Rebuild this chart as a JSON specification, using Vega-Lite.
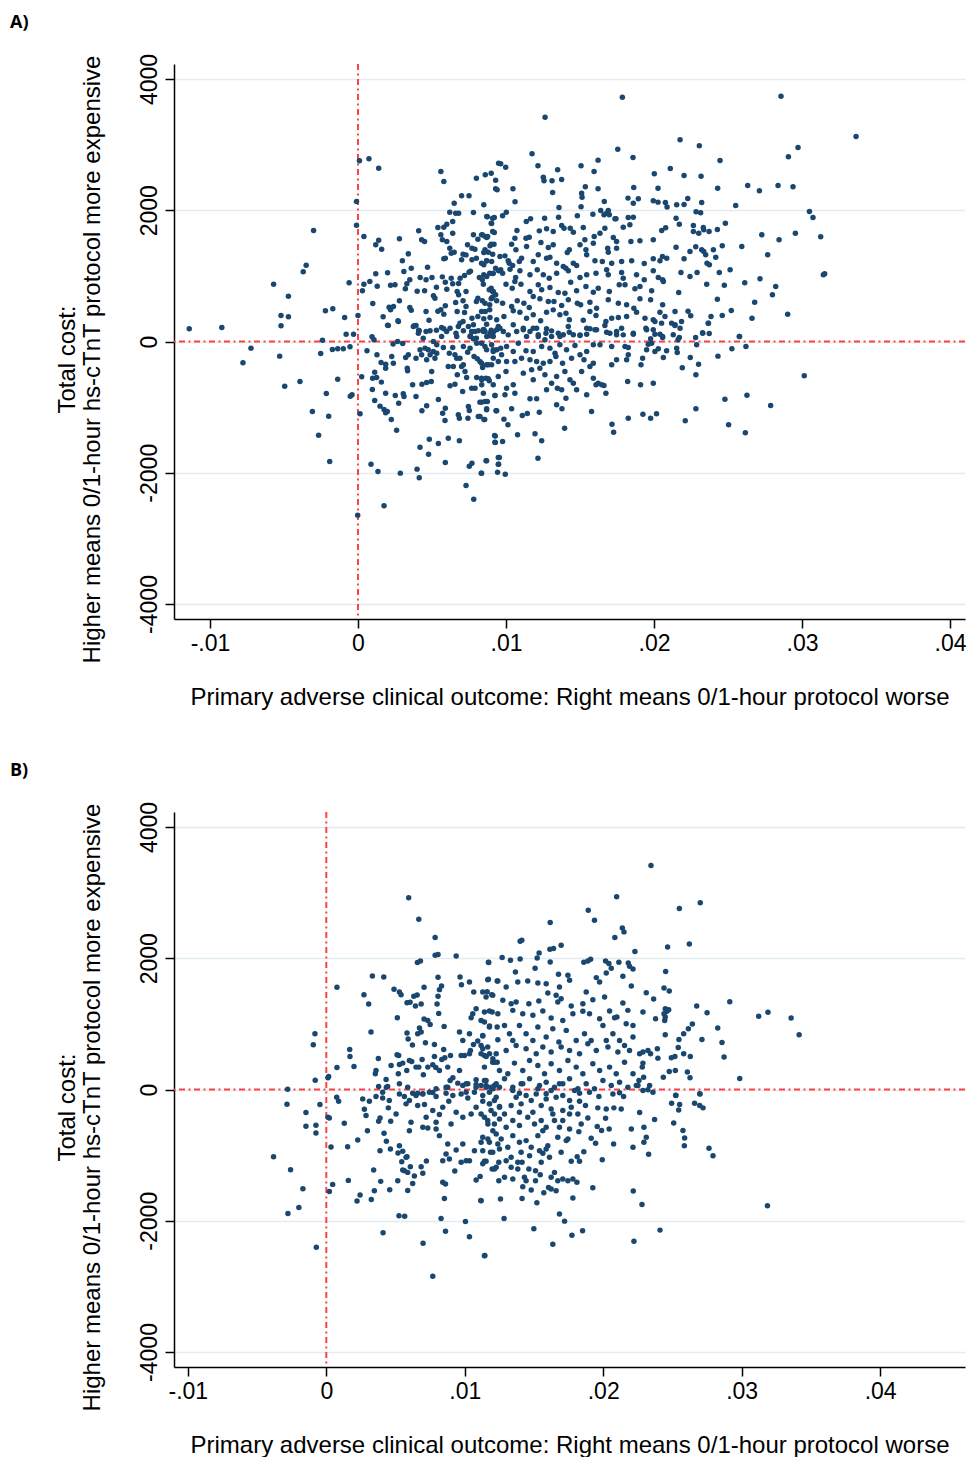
{
"$schema":"https://vega.github.io/schema/vega-lite/v6.json",
"padding":{"left":10,"top":14,"right":0,"bottom":0},
"background":"white",
"spacing":53,
"config":{"font":"Liberation Sans","view":{"stroke":null},
"axis":{"domainColor":"black","domainWidth":1.5,"tickColor":"black","tickWidth":1.5,"tickSize":9,"labelColor":"black","titleColor":"black","labelFontSize":23,"titleFontSize":24,"titleFontWeight":"normal","gridColor":"#e3edf1","gridWidth":1.5}},
"datasets":{
"a":[
{"x":0.0001,"y":2754},{"x":0.00074,"y":2784},{"x":0.0014,"y":2641},{"x":-0.0001,"y":2134},{"x":-0.0001,"y":1773},{"x":0.0004,"y":1600},{"x":-0.003,"y":1692},{"x":0.0012,"y":1474},{"x":0.0014,"y":1544},{"x":0.0016,"y":1407},{"x":0.0028,"y":1565},{"x":0.0041,"y":1687},{"x":0.0043,"y":1550},{"x":0.0045,"y":1524},{"x":0.0034,"y":1336},{"x":0.003,"y":1230},{"x":-0.0035,"y":1163},{"x":-0.0037,"y":1062},{"x":-0.0057,"y":873},{"x":-0.0047,"y":690},{"x":-0.0052,"y":396},{"x":-0.0047,"y":376},{"x":-0.0052,"y":239},{"x":-0.0114,"y":193},{"x":-0.0092,"y":213},{"x":-0.0022,"y":467},{"x":-0.0017,"y":498},{"x":-0.0009,"y":366},{"x":-0.0006,"y":894},{"x":0,"y":396},{"x":-0.0008,"y":112},{"x":-0.0003,"y":112},{"x":-0.0024,"y":20},{"x":0.0003,"y":772},{"x":0.0004,"y":873},{"x":0.0008,"y":914},{"x":0.0013,"y":843},{"x":0.001,"y":579},{"x":0.0012,"y":1032},{"x":0.002,"y":1047},{"x":0.0017,"y":376},{"x":0.002,"y":248},{"x":0.0027,"y":315},{"x":0.0021,"y":523},{"x":0.0022,"y":483},{"x":0.0024,"y":533},{"x":0.0028,"y":620},{"x":0.0022,"y":858},{"x":0.0025,"y":864},{"x":0.0031,"y":1067},{"x":0.0036,"y":1117},{"x":0.0035,"y":518},{"x":0.0036,"y":477},{"x":0.0032,"y":803},{"x":0.0033,"y":879},{"x":0.0035,"y":940},{"x":0.0038,"y":239},{"x":0.0041,"y":172},{"x":0.004,"y":767},{"x":0.0042,"y":975},{"x":0.0045,"y":772},{"x":0.0046,"y":940},{"x":0.0047,"y":1132},{"x":0.0046,"y":457},{"x":0.0048,"y":325},{"x":0.0053,"y":172},{"x":0.0054,"y":462},{"x":0.0051,"y":696},{"x":0.0052,"y":660},{"x":0.005,"y":975},{"x":0.0053,"y":828},{"x":0.0057,"y":985},{"x":0.0059,"y":904},{"x":0.006,"y":797},{"x":0.0056,"y":483},{"x":0.0059,"y":544},{"x":0.0058,"y":416},{"x":0.0058,"y":193},{"x":0.0063,"y":965},{"x":0.0064,"y":879},{"x":0.0068,"y":884},{"x":0.0069,"y":965},{"x":0.0072,"y":1006},{"x":0.0075,"y":1057},{"x":0.0076,"y":1072},{"x":0.0067,"y":762},{"x":0.0068,"y":711},{"x":0.0073,"y":762},{"x":0.0066,"y":594},{"x":0.0067,"y":457},{"x":0.0071,"y":620},{"x":0.0073,"y":533},{"x":0.0072,"y":442},{"x":0.0071,"y":305},{"x":0.0077,"y":355},{"x":0.0078,"y":254},{"x":0.0076,"y":86},{"x":0.0079,"y":152},{"x":0.008,"y":50},{"x":0.0085,"y":183},{"x":0.009,"y":172},{"x":0.0089,"y":86},{"x":0.0087,"y":76},{"x":0.008,"y":610},{"x":0.0081,"y":660},{"x":0.0084,"y":620},{"x":0.0081,"y":381},{"x":0.0085,"y":345},{"x":0.0089,"y":483},{"x":0.0086,"y":457},{"x":0.0089,"y":559},{"x":0.009,"y":650},{"x":0.0091,"y":680},{"x":0.0082,"y":975},{"x":0.0084,"y":940},{"x":0.0085,"y":1016},{"x":0.0087,"y":991},{"x":0.0089,"y":1041},{"x":0.0091,"y":1036},{"x":0.009,"y":813},{"x":0.0091,"y":762},{"x":0.0093,"y":711},{"x":0.0078,"y":1626},{"x":0.0081,"y":1559},{"x":0.0084,"y":1626},{"x":0.0086,"y":1600},{"x":0.0087,"y":1585},{"x":0.0091,"y":1676},{"x":0.009,"y":1483},{"x":0.0088,"y":1361},{"x":0.0085,"y":1356},{"x":0.0091,"y":1330},{"x":0.0087,"y":1229},{"x":0.0085,"y":1168},{"x":0.0093,"y":1117},{"x":0.0095,"y":1077},{"x":0.0074,"y":1474},{"x":0.0071,"y":1330},{"x":0.0077,"y":1422},{"x":0.0079,"y":1407},{"x":0.007,"y":1245},{"x":0.0073,"y":1320},{"x":0.0077,"y":1245},{"x":0.008,"y":1270},{"x":0.0062,"y":1422},{"x":0.0063,"y":1346},{"x":0.0065,"y":1361},{"x":0.0059,"y":1270},{"x":0.0058,"y":1260},{"x":0.0064,"y":1829},{"x":0.0066,"y":1955},{"x":0.0062,"y":1971},{"x":0.0068,"y":1955},{"x":0.0058,"y":1742},{"x":0.006,"y":1788},{"x":0.0054,"y":1737},{"x":0.0056,"y":1626},{"x":0.0057,"y":1550},{"x":0.0064,"y":1651},{"x":0.006,"y":1524},{"x":0.0065,"y":2108},{"x":0.007,"y":2220},{"x":0.0075,"y":2220},{"x":0.0078,"y":1966},{"x":0.0085,"y":2083},{"x":0.0056,"y":2591},{"x":0.0058,"y":2438},{"x":0.008,"y":2489},{"x":0.0086,"y":2540},{"x":0.009,"y":2565},{"x":0.0093,"y":2458},{"x":0.0093,"y":2327},{"x":0.0094,"y":2312},{"x":0.0095,"y":2717},{"x":0.0087,"y":1905},{"x":0.009,"y":1803},{"x":0.0091,"y":1879},
{"x":0.01786,"y":3723},{"x":0.02858,"y":3739},{"x":0.01264,"y":3419},{"x":0.02176,"y":3073},{"x":0.02306,"y":2982},{"x":0.02973,"y":2957},{"x":0.02908,"y":2814},{"x":0.01176,"y":2860},{"x":0.01755,"y":2931},{"x":0.01858,"y":2804},{"x":0.02446,"y":2758},{"x":0.0211,"y":2637},{"x":0.02203,"y":2530},{"x":0.02318,"y":2520},{"x":0.02002,"y":2555},{"x":0.00964,"y":2708},{"x":0.00998,"y":2657},{"x":0.01047,"y":2327},{"x":0.01061,"y":2129},{"x":0.01216,"y":2677},{"x":0.01252,"y":2504},{"x":0.01257,"y":2449},{"x":0.01311,"y":2449},{"x":0.01315,"y":2271},{"x":0.01349,"y":2616},{"x":0.01376,"y":2469},{"x":0.01358,"y":2042},{"x":0.01507,"y":2677},{"x":0.01536,"y":2357},{"x":0.01511,"y":2261},{"x":0.01514,"y":2200},{"x":0.01507,"y":2052},{"x":0.01595,"y":2591},{"x":0.01622,"y":2764},{"x":0.01622,"y":2327},{"x":0.01664,"y":2134},{"x":0.0164,"y":1996},{"x":0.01662,"y":1930},{"x":0.01691,"y":1996},{"x":0.01698,"y":1930},{"x":0.01743,"y":1869},{"x":0.01824,"y":2185},{"x":0.0186,"y":2108},{"x":0.01863,"y":2347},{"x":0.01894,"y":2174},{"x":0.01995,"y":2144},{"x":0.02027,"y":2124},{"x":0.02077,"y":2119},{"x":0.02088,"y":2048},{"x":0.02153,"y":2083},{"x":0.02203,"y":2088},{"x":0.02228,"y":2179},{"x":0.02027,"y":2337},{"x":0.02284,"y":1976},{"x":0.02322,"y":2119},{"x":0.02315,"y":1961},{"x":0.02149,"y":1880},{"x":0.02171,"y":1788},{"x":0.02266,"y":1768},{"x":0.02333,"y":1737},{"x":0.02372,"y":1676},{"x":0.02428,"y":1707},{"x":0.02482,"y":1803},{"x":0.0243,"y":2337},{"x":0.02552,"y":2073},{"x":0.02633,"y":2377},{"x":0.02712,"y":2296},{"x":0.02838,"y":2377},{"x":0.02939,"y":2357},{"x":0.0305,"y":1981},{"x":0.02728,"y":1626},{"x":0.02845,"y":1549},{"x":0.02955,"y":1651},{"x":0.02593,"y":1448},{"x":0.02768,"y":1321},{"x":0.02716,"y":955},{"x":0.02613,"y":894},{"x":0.02822,"y":838},{"x":0.028,"y":711},{"x":0.0268,"y":599},{"x":0.02662,"y":355},{"x":0.02903,"y":416},{"x":0.02522,"y":472},{"x":0.02576,"y":76},{"x":0.02428,"y":645},{"x":0.02461,"y":396},{"x":0.02475,"y":858},{"x":0.02514,"y":1092},{"x":0.02441,"y":1051},{"x":0.02461,"y":1458},{"x":0.02417,"y":1285},{"x":0.02401,"y":1397},{"x":0.02266,"y":1676},{"x":0.02302,"y":1651},{"x":0.02336,"y":1702},{"x":0.02322,"y":1397},{"x":0.02336,"y":1372},{"x":0.02349,"y":1321},{"x":0.02358,"y":1194},{"x":0.02374,"y":1168},{"x":0.02356,"y":874},{"x":0.02385,"y":381},{"x":0.02367,"y":279},{"x":0.02329,"y":127},{"x":0.02282,"y":1443},{"x":0.02243,"y":1372},{"x":0.02203,"y":1260},{"x":0.02182,"y":1051},{"x":0.02243,"y":991},{"x":0.02291,"y":1051},{"x":0.02149,"y":1438},{"x":0.02086,"y":1270},{"x":0.02052,"y":1692},{"x":0.02079,"y":1732},{"x":0.02057,"y":1295},{"x":0.02167,"y":747},{"x":0.02142,"y":457},{"x":0.0223,"y":462},{"x":0.02248,"y":391},{"x":0.02142,"y":254},{"x":0.02176,"y":203},
{"x":0.00874,"y":1900},{"x":0.00921,"y":1890},{"x":0.00977,"y":1915},{"x":0.01002,"y":1971},{"x":0.01137,"y":1829},{"x":0.01166,"y":1869},{"x":0.01261,"y":1879},{"x":0.01355,"y":1895},{"x":0.01482,"y":1915},{"x":0.01587,"y":1940},{"x":0.0168,"y":1956},{"x":0.01736,"y":1869},{"x":0.01826,"y":1890},{"x":0.0186,"y":1895},
{"x":0.00835,"y":1625},{"x":0.00903,"y":1798},{"x":0.00921,"y":1661},{"x":0.00876,"y":1600},{"x":0.01074,"y":1691},{"x":0.0106,"y":1575},{"x":0.01157,"y":1590},{"x":0.01225,"y":1686},{"x":0.01274,"y":1717},{"x":0.01319,"y":1676},{"x":0.01376,"y":1768},{"x":0.01392,"y":1727},{"x":0.01434,"y":1727},{"x":0.01455,"y":1666},{"x":0.01522,"y":1737},{"x":0.01533,"y":1549},{"x":0.01596,"y":1600},{"x":0.01635,"y":1651},{"x":0.01668,"y":1727},{"x":0.01725,"y":1585},{"x":0.01747,"y":1524},{"x":0.01792,"y":1742},{"x":0.01837,"y":1778},{"x":0.01905,"y":1534},
{"x":0.00858,"y":1397},{"x":0.00892,"y":1458},{"x":0.00919,"y":1483},{"x":0.00993,"y":1305},{"x":0.01038,"y":1483},{"x":0.01067,"y":1397},{"x":0.01135,"y":1575},{"x":0.01139,"y":1448},{"x":0.01236,"y":1509},{"x":0.01286,"y":1432},{"x":0.01319,"y":1473},{"x":0.01428,"y":1397},{"x":0.01414,"y":1356},{"x":0.015,"y":1473},{"x":0.0154,"y":1397},{"x":0.0159,"y":1498},{"x":0.01687,"y":1422},{"x":0.01691,"y":1361},{"x":0.01747,"y":1422},{"x":0.01844,"y":1524},{"x":0.01995,"y":1549},
{"x":0.00835,"y":1194},{"x":0.00869,"y":1229},{"x":0.00903,"y":1219},{"x":0.00959,"y":1295},{"x":0.01015,"y":1229},{"x":0.01022,"y":1194},{"x":0.01045,"y":1158},{"x":0.0109,"y":1219},{"x":0.01105,"y":1270},{"x":0.01184,"y":1219},{"x":0.01218,"y":1321},{"x":0.01274,"y":1270},{"x":0.01297,"y":1285},{"x":0.01342,"y":1194},{"x":0.01387,"y":1143},{"x":0.01455,"y":1194},{"x":0.01477,"y":1158},{"x":0.01545,"y":1321},{"x":0.01601,"y":1229},{"x":0.01651,"y":1219},{"x":0.01714,"y":1194},{"x":0.01781,"y":1219},{"x":0.01849,"y":1229},{"x":0.01934,"y":1189},{"x":0.01995,"y":1260},{"x":0.0204,"y":1229},
{"x":0.00914,"y":1041},{"x":0.00964,"y":1092},{"x":0.00977,"y":1041},{"x":0.01027,"y":1102},{"x":0.01065,"y":975},{"x":0.01094,"y":1077},{"x":0.01162,"y":1016},{"x":0.01211,"y":1092},{"x":0.01252,"y":1016},{"x":0.01292,"y":965},{"x":0.01342,"y":1041},{"x":0.01405,"y":1117},{"x":0.01421,"y":1077},{"x":0.015,"y":975},{"x":0.01545,"y":1016},{"x":0.01608,"y":1041},{"x":0.0168,"y":1092},{"x":0.01691,"y":1016},{"x":0.01781,"y":1051},{"x":0.01792,"y":965},{"x":0.01882,"y":1016},{"x":0.01934,"y":940},{"x":0.01995,"y":1077},{"x":0.02029,"y":975},{"x":0.02058,"y":940},
{"x":0.00847,"y":874},{"x":0.00887,"y":787},{"x":0.00914,"y":762},{"x":0.01,"y":874},{"x":0.01042,"y":813},{"x":0.0106,"y":914},{"x":0.01101,"y":874},{"x":0.01162,"y":762},{"x":0.01218,"y":864},{"x":0.01241,"y":787},{"x":0.01297,"y":823},{"x":0.01353,"y":747},{"x":0.01398,"y":736},{"x":0.01437,"y":904},{"x":0.01477,"y":772},{"x":0.0154,"y":838},{"x":0.0159,"y":752},{"x":0.01623,"y":813},{"x":0.01698,"y":762},{"x":0.01765,"y":864},{"x":0.01804,"y":864},{"x":0.01871,"y":803},{"x":0.01905,"y":838},{"x":0.01984,"y":772},{"x":0.02063,"y":914},
{"x":0.00858,"y":584},{"x":0.00903,"y":660},{"x":0.00937,"y":620},{"x":0.00977,"y":584},{"x":0.01038,"y":533},{"x":0.01076,"y":620},{"x":0.01121,"y":584},{"x":0.01157,"y":518},{"x":0.01184,"y":686},{"x":0.01229,"y":650},{"x":0.01286,"y":610},{"x":0.01324,"y":610},{"x":0.01376,"y":549},{"x":0.01421,"y":635},{"x":0.01482,"y":584},{"x":0.01504,"y":559},{"x":0.01567,"y":599},{"x":0.01612,"y":508},{"x":0.01691,"y":635},{"x":0.01759,"y":584},{"x":0.01815,"y":559},{"x":0.01864,"y":508},{"x":0.01905,"y":650},{"x":0.01977,"y":635},{"x":0.02058,"y":559},
{"x":0.00835,"y":457},{"x":0.00892,"y":366},{"x":0.00937,"y":330},{"x":0.00986,"y":381},{"x":0.01049,"y":467},{"x":0.01094,"y":447},{"x":0.01139,"y":355},{"x":0.01184,"y":406},{"x":0.01234,"y":315},{"x":0.01274,"y":447},{"x":0.01319,"y":482},{"x":0.01364,"y":406},{"x":0.01405,"y":432},{"x":0.01428,"y":330},{"x":0.01522,"y":325},{"x":0.01567,"y":457},{"x":0.01608,"y":396},{"x":0.01675,"y":305},{"x":0.01714,"y":355},{"x":0.01759,"y":366},{"x":0.01815,"y":381},{"x":0.01882,"y":447},{"x":0.01939,"y":355},{"x":0.01995,"y":330},{"x":0.0204,"y":447},{"x":0.02074,"y":381},
{"x":0.00847,"y":178},{"x":0.00914,"y":142},{"x":0.00959,"y":203},{"x":0.01015,"y":101},{"x":0.01072,"y":152},{"x":0.01117,"y":203},{"x":0.01162,"y":152},{"x":0.01207,"y":203},{"x":0.01218,"y":76},{"x":0.0127,"y":127},{"x":0.01308,"y":162},{"x":0.01364,"y":76},{"x":0.01428,"y":142},{"x":0.015,"y":101},{"x":0.01545,"y":203},{"x":0.01612,"y":178},{"x":0.0168,"y":142},{"x":0.01747,"y":152},{"x":0.01792,"y":101},{"x":0.0186,"y":112},{"x":0.0195,"y":178},{"x":0.02006,"y":112},{"x":0.02058,"y":61},
{"x":0.03365,"y":3124},{"x":0.03074,"y":1889},{"x":0.03126,"y":1595},{"x":0.03144,"y":1016},{"x":0.03153,"y":1031},
{"x":-0.00723,"y":-101},{"x":-0.00777,"y":-325},{"x":-0.00529,"y":-223},{"x":-0.00495,"y":-681},{"x":-0.00392,"y":-609},{"x":-0.00252,"y":-183},{"x":-0.00173,"y":-122},{"x":-0.00137,"y":-112},{"x":-0.00099,"y":-112},{"x":-0.00054,"y":-81},{"x":-0.00137,"y":-574},{"x":-0.00214,"y":-792},{"x":-0.00308,"y":-1067},{"x":-0.00198,"y":-1138},{"x":-0.00266,"y":-1427},{"x":-0.00191,"y":-1829},{"x":-0.00052,"y":-833},{"x":-0.0004,"y":-813},{"x":0.00014,"y":-1102},{"x":0.00025,"y":-538},{"x":-0.00002,"y":-2646},{"x":0.00061,"y":-142},{"x":0.00095,"y":71},{"x":0.00108,"y":25},{"x":0.00128,"y":-203},{"x":0.00156,"y":-320},{"x":0.00187,"y":-345},{"x":0.00187,"y":-406},{"x":0.00228,"y":-228},{"x":0.00239,"y":-330},{"x":0.00237,"y":-40},{"x":0.00268,"y":0},{"x":0.00302,"y":-30},{"x":0.00099,"y":-559},{"x":0.00126,"y":-549},{"x":0.00158,"y":-619},{"x":0.00113,"y":-467},{"x":0.00097,"y":-731},{"x":0.00113,"y":-899},{"x":0.00149,"y":-985},{"x":0.00176,"y":-1036},{"x":0.00187,"y":-1087},{"x":0.00198,"y":-1067},{"x":0.00225,"y":-1189},{"x":0.00261,"y":-1351},{"x":0.00187,"y":-787},{"x":0.00252,"y":-823},{"x":0.00306,"y":-797},{"x":0.00311,"y":-838},{"x":0.00275,"y":-940},{"x":0.00369,"y":-660},{"x":0.00392,"y":-838},{"x":0.00432,"y":-1056},{"x":0.00464,"y":-980},{"x":0.00498,"y":-457},{"x":0.00495,"y":-609},{"x":0.00464,"y":-625},{"x":0.00432,"y":-650},{"x":0.00543,"y":-884},{"x":0.0059,"y":-1016},{"x":0.00572,"y":-1092},{"x":0.00588,"y":-1204},{"x":0.00622,"y":-675},{"x":0.00655,"y":-650},{"x":0.00678,"y":-1117},{"x":0.00685,"y":-1168},{"x":0.00707,"y":-762},{"x":0.00746,"y":-991},{"x":0.00752,"y":-1051},{"x":0.00743,"y":-1168},{"x":0.00813,"y":-1143},{"x":0.00851,"y":-1189},{"x":0.00768,"y":-711},{"x":0.00791,"y":-711},{"x":0.00836,"y":-660},{"x":0.00865,"y":-559},{"x":0.00858,"y":-914},{"x":0.00824,"y":-924},{"x":0.00869,"y":-1041},{"x":0.00926,"y":-823},{"x":0.00937,"y":-1056},{"x":0.00928,"y":-1442},{"x":0.00928,"y":-1539},
{"x":0.00482,"y":-1488},{"x":0.00419,"y":-1610},{"x":0.00477,"y":-1717},{"x":0.00543,"y":-1554},{"x":0.0061,"y":-1473},{"x":0.00685,"y":-1514},{"x":0.0059,"y":-1844},{"x":0.00399,"y":-1945},{"x":0.00414,"y":-2078},{"x":0.00286,"y":-2006},{"x":0.00135,"y":-1981},{"x":0.00088,"y":-1869},{"x":0.00176,"y":-2504},{"x":0.0073,"y":-2194},{"x":0.00782,"y":-2403},{"x":0.00752,"y":-1900},{"x":0.0077,"y":-1854},{"x":0.00833,"y":-2006},{"x":0.00869,"y":-1818},{"x":0.00948,"y":-1768},{"x":0.00948,"y":-1869},
{"x":0.00205,"y":244},{"x":0.00273,"y":305},{"x":0.00374,"y":229},{"x":0.00392,"y":244},{"x":0.00408,"y":127},{"x":0.00414,"y":163},{"x":0.0046,"y":152},{"x":0.00487,"y":163},{"x":0.00441,"y":51},{"x":0.00509,"y":0},{"x":0.00532,"y":-51},{"x":0.00565,"y":76},{"x":0.00599,"y":152},{"x":0.00565,"y":214},{"x":0.00622,"y":203},{"x":0.00662,"y":127},{"x":0.00667,"y":76},{"x":0.00678,"y":229},{"x":0.00712,"y":163},{"x":0.00746,"y":229},{"x":0.00768,"y":152},{"x":0.00757,"y":76},{"x":0.00779,"y":41},{"x":0.00813,"y":163},{"x":0.00847,"y":152},{"x":0.00892,"y":127},{"x":0.00914,"y":76},{"x":0.00948,"y":229},{"x":0.00869,"y":264},{"x":0.00689,"y":280},
{"x":0.00419,"y":-127},{"x":0.00453,"y":-101},{"x":0.00475,"y":-127},{"x":0.00509,"y":-152},{"x":0.00532,"y":-178},{"x":0.0052,"y":-254},{"x":0.00487,"y":-203},{"x":0.00464,"y":-279},{"x":0.0043,"y":-203},{"x":0.0034,"y":-203},{"x":0.00322,"y":-244},{"x":0.00333,"y":-406},{"x":0.00335,"y":-447},{"x":0.00392,"y":-254},{"x":0.00577,"y":-91},{"x":0.00617,"y":-178},{"x":0.0064,"y":-91},{"x":0.00655,"y":-203},{"x":0.00667,"y":-254},{"x":0.00689,"y":-254},{"x":0.007,"y":-381},{"x":0.00712,"y":-355},{"x":0.00723,"y":-457},{"x":0.00741,"y":-163},{"x":0.00784,"y":-228},{"x":0.00806,"y":-264},{"x":0.00824,"y":-305},{"x":0.00842,"y":-396},{"x":0.00881,"y":-355},{"x":0.00903,"y":-355},{"x":0.00914,"y":-152},{"x":0.00937,"y":-127},{"x":0.00948,"y":-305},{"x":0.00903,"y":-51},{"x":0.00858,"y":-76},{"x":0.00802,"y":-25},{"x":0.00757,"y":-101},{"x":0.00712,"y":-76},{"x":0.0061,"y":-381},{"x":0.00644,"y":-381},{"x":0.00671,"y":-508},{"x":0.00734,"y":-549},{"x":0.00802,"y":-549},{"x":0.00836,"y":-584},{"x":0.00887,"y":-599},
{"x":0.03015,"y":-523},{"x":0.02788,"y":-975},{"x":0.02628,"y":-818},{"x":0.02479,"y":-879},{"x":0.02504,"y":-1270},{"x":0.02617,"y":-1392},{"x":0.02578,"y":76},{"x":0.02621,"y":-76},{"x":0.02526,"y":-112},{"x":0.02432,"y":-223},{"x":0.02373,"y":122},{"x":0.02328,"y":132},{"x":0.02367,"y":280},{"x":0.02301,"y":-345},{"x":0.02283,"y":-508},{"x":0.02283,"y":-1026},{"x":0.02211,"y":-1209},{"x":0.02191,"y":-401},{"x":0.02245,"y":-244},{"x":0.02281,"y":61},{"x":0.02288,"y":-51},{"x":0.02162,"y":26},{"x":0.02171,"y":61},{"x":0.02141,"y":244},{"x":0.0213,"y":102},{"x":0.02157,"y":-167},{"x":0.02153,"y":-101},{"x":0.02085,"y":-142},{"x":0.02063,"y":-244},{"x":0.02029,"y":-112},{"x":0.02006,"y":-152},{"x":0.01984,"y":-25},{"x":0.01961,"y":-41},{"x":0.0195,"y":-127},{"x":0.01977,"y":41},{"x":0.01945,"y":203},{"x":0.01995,"y":178},{"x":0.02006,"y":305},{"x":0.0204,"y":112},{"x":0.02058,"y":76},{"x":0.02051,"y":280},{"x":0.02119,"y":280},{"x":0.02186,"y":305},
{"x":0.01912,"y":-355},{"x":0.01923,"y":-254},{"x":0.01909,"y":-660},{"x":0.01995,"y":-635},{"x":0.01925,"y":-1107},{"x":0.01977,"y":-1168},{"x":0.02017,"y":-1102},{"x":0.01822,"y":-609},{"x":0.01826,"y":-1168},{"x":0.01815,"y":-279},{"x":0.01826,"y":-203},{"x":0.01804,"y":-76},{"x":0.01826,"y":-91},{"x":0.01714,"y":-355},{"x":0.01747,"y":-279},{"x":0.01716,"y":-1260},{"x":0.01727,"y":-1382},{"x":0.01675,"y":-787},{"x":0.01578,"y":-1067},{"x":0.01662,"y":-670},
{"x":0.01396,"y":-1321},{"x":0.01378,"y":-1026},{"x":0.01342,"y":-965},{"x":0.01241,"y":-1514},{"x":0.01196,"y":-1407},{"x":0.01216,"y":-1778},{"x":0.01225,"y":-1077},{"x":0.01144,"y":-1097},{"x":0.0111,"y":-1128},{"x":0.01078,"y":-1422},{"x":0.01038,"y":-1026},{"x":0.01013,"y":-1270},{"x":0.00986,"y":-1183},{"x":0.00977,"y":-1524},{"x":0.00955,"y":-1768},{"x":0.0095,"y":-1869},{"x":0.00943,"y":-1991},{"x":0.00995,"y":-2022},{"x":0.00923,"y":-1432},{"x":0.00925,"y":-1534},{"x":0.00932,"y":-1056},{"x":0.00869,"y":-1026},{"x":0.00856,"y":-1189},{"x":0.00865,"y":-1818},{"x":0.00835,"y":-2006},{"x":0.00824,"y":-1143},{"x":0.00835,"y":-924},
{"x":0.00858,"y":153},{"x":0.00903,"y":112},{"x":0.00937,"y":178},{"x":0.00982,"y":153},{"x":0.01049,"y":254},{"x":0.01117,"y":178},{"x":0.01139,"y":76},{"x":0.01184,"y":203},{"x":0.01218,"y":102},{"x":0.01274,"y":193},{"x":0.01308,"y":76},{"x":0.01353,"y":127},{"x":0.01387,"y":102},{"x":0.01421,"y":229},{"x":0.01455,"y":102},{"x":0.015,"y":92},{"x":0.01545,"y":112},{"x":0.01567,"y":193},{"x":0.01601,"y":178},{"x":0.01668,"y":244},{"x":0.01702,"y":127},{"x":0.01747,"y":102},{"x":0.01781,"y":203},{"x":0.0186,"y":127},
{"x":0.00835,"y":-25},{"x":0.00869,"y":-127},{"x":0.00914,"y":-127},{"x":0.00964,"y":-101},{"x":0.01004,"y":-76},{"x":0.01049,"y":-152},{"x":0.01083,"y":-25},{"x":0.01135,"y":-142},{"x":0.01184,"y":-152},{"x":0.01241,"y":-76},{"x":0.01263,"y":25},{"x":0.01297,"y":-101},{"x":0.01331,"y":-178},{"x":0.01364,"y":-51},{"x":0.01409,"y":-127},{"x":0.01466,"y":-61},{"x":0.015,"y":-203},{"x":0.01545,"y":-152},{"x":0.0159,"y":-51},{"x":0.01635,"y":-51},{"x":0.01714,"y":-76},{"x":0.00835,"y":-330},{"x":0.00869,"y":-355},{"x":0.00914,"y":-254},{"x":0.0097,"y":-203},{"x":0.01004,"y":-305},{"x":0.0106,"y":-305},{"x":0.01105,"y":-254},{"x":0.01162,"y":-279},{"x":0.01207,"y":-305},{"x":0.01252,"y":-330},{"x":0.01297,"y":-305},{"x":0.01337,"y":-228},{"x":0.01382,"y":-330},{"x":0.01443,"y":-254},{"x":0.01527,"y":-279},{"x":0.0159,"y":-330},
{"x":0.00835,"y":-559},{"x":0.0088,"y":-569},{"x":0.00914,"y":-660},{"x":0.00948,"y":-533},{"x":0.01,"y":-457},{"x":0.01004,"y":-711},{"x":0.01049,"y":-660},{"x":0.0106,"y":-787},{"x":0.01117,"y":-482},{"x":0.01173,"y":-432},{"x":0.01184,"y":-584},{"x":0.01207,"y":-874},{"x":0.01229,"y":-406},{"x":0.01263,"y":-508},{"x":0.01274,"y":-737},{"x":0.01308,"y":-635},{"x":0.01342,"y":-533},{"x":0.01347,"y":-711},{"x":0.01376,"y":-737},{"x":0.01398,"y":-457},{"x":0.01405,"y":-864},{"x":0.01432,"y":-584},{"x":0.01455,"y":-635},{"x":0.01477,"y":-737},{"x":0.01511,"y":-457},{"x":0.01545,"y":-813},{"x":0.01567,"y":-381},{"x":0.0159,"y":-559},{"x":0.01608,"y":-660},{"x":0.01623,"y":-635},{"x":0.01646,"y":-660},{"x":0.00993,"y":-813},{"x":0.00925,"y":-823},{"x":0.00874,"y":-914},{"x":0.00847,"y":-787},{"x":0.01162,"y":-874}
],
"b":[
{"x":0.00595,"y":2921},{"x":0.00668,"y":2596},{"x":0.00786,"y":2316},{"x":0.00786,"y":2046},{"x":0.00807,"y":2056},{"x":0.00938,"y":2036},{"x":0.00658,"y":1934},{"x":0.0068,"y":1959},{"x":0.01171,"y":1939},{"x":0.00333,"y":1730},{"x":0.00415,"y":1715},{"x":0.00077,"y":1557},{"x":0.00272,"y":1445},{"x":0.00306,"y":1303},{"x":0.00489,"y":1527},{"x":0.00528,"y":1486},{"x":0.0054,"y":1445},{"x":0.00583,"y":1323},{"x":0.00605,"y":1328},{"x":0.00632,"y":1420},{"x":0.00656,"y":1440},{"x":0.00644,"y":1272},{"x":0.00685,"y":1303},{"x":0.00706,"y":1557},{"x":0.00807,"y":1710},{"x":0.00832,"y":1578},{"x":0.00817,"y":1522},{"x":0.00807,"y":1420},{"x":0.008,"y":1303},{"x":0.00812,"y":1160},{"x":0.00966,"y":1715},{"x":0.00976,"y":1598},{"x":0.01034,"y":1639},{"x":0.01065,"y":1486},{"x":0.01171,"y":1679},{"x":0.01234,"y":1654},{"x":0.01162,"y":1491},{"x":0.01195,"y":1445},
{"x":0.00513,"y":1094},{"x":0.00706,"y":1074},{"x":0.00733,"y":1053},{"x":0.0075,"y":992},{"x":0.00673,"y":936},{"x":0.0066,"y":850},{"x":0.00685,"y":875},{"x":0.00851,"y":962},{"x":0.00323,"y":875},{"x":0.00583,"y":860},{"x":0.00591,"y":768},{"x":0.00622,"y":677},{"x":0.00716,"y":713},{"x":0.00781,"y":687},{"x":-0.00094,"y":682},{"x":-0.00082,"y":850},{"x":-0.0008,"y":142},{"x":0.00169,"y":611},{"x":0.00171,"y":504},{"x":0.002,"y":351},{"x":0.00077,"y":336},{"x":0.00012,"y":178},{"x":0.00017,"y":198},{"x":-0.00279,"y":5},
{"x":0.00376,"y":473},{"x":0.00359,"y":290},{"x":0.00354,"y":239},{"x":0.00432,"y":153},{"x":0.00434,"y":36},{"x":0.00378,"y":46},{"x":0.00468,"y":366},
{"x":0.00511,"y":529},{"x":0.00523,"y":519},{"x":0.00528,"y":382},{"x":0.0052,"y":239},{"x":0.00552,"y":402},{"x":0.00581,"y":290},{"x":0.006,"y":443},{"x":0.00617,"y":427},{"x":0.00648,"y":341},{"x":0.00668,"y":341},{"x":0.00692,"y":458},{"x":0.00701,"y":224},{"x":0.00733,"y":341},{"x":0.00769,"y":377},{"x":0.00791,"y":336},{"x":0.00817,"y":290},{"x":0.00834,"y":458},{"x":0.00856,"y":483},{"x":0.00848,"y":611},{"x":0.00781,"y":504},{"x":0.00897,"y":519},{"x":0.00877,"y":341},{"x":0.00894,"y":137},{"x":0.00914,"y":178},{"x":0.00962,"y":290},{"x":0.00974,"y":519},{"x":0.00998,"y":519},{"x":0.01034,"y":544},{"x":0.01034,"y":850},{"x":0.00986,"y":748},{"x":0.00962,"y":875},{"x":0.01041,"y":595},{"x":0.01063,"y":687},{"x":0.01094,"y":738},{"x":0.01118,"y":672},{"x":0.0113,"y":621},{"x":0.01142,"y":519},{"x":0.01155,"y":504},{"x":0.01179,"y":544},{"x":0.01203,"y":468},{"x":0.01215,"y":417},{"x":0.01234,"y":417},{"x":0.0113,"y":814},{"x":0.01046,"y":1094},{"x":0.01058,"y":1155},{"x":0.01082,"y":1232},{"x":0.01118,"y":1053},{"x":0.01142,"y":1028},{"x":0.01179,"y":967},{"x":0.01198,"y":1181},{"x":0.01234,"y":952},
{"x":0.00624,"y":-56},{"x":0.00697,"y":-66},{"x":0.00769,"y":-46},{"x":0.00793,"y":10},{"x":0.00865,"y":36},{"x":0.0095,"y":97},{"x":0.00986,"y":61},{"x":0.01022,"y":87},{"x":0.01082,"y":36},{"x":0.01155,"y":36},{"x":0.01215,"y":61},{"x":0.01142,"y":137},{"x":0.01082,"y":147},{"x":0.0101,"y":-41},
{"x":0.02345,"y":3415},{"x":0.02097,"y":2937},{"x":0.02701,"y":2845},{"x":0.0255,"y":2759},{"x":0.01892,"y":2733},{"x":0.01937,"y":2580},{"x":0.01617,"y":2545},{"x":0.02084,"y":2316},{"x":0.02138,"y":2463},{"x":0.0215,"y":2402},{"x":0.02622,"y":2219},{"x":0.02465,"y":2173},{"x":0.014,"y":2260},{"x":0.01412,"y":2275},{"x":0.01615,"y":2138},{"x":0.01641,"y":2148},{"x":0.01696,"y":2199},{"x":0.02229,"y":2102},{"x":0.01537,"y":2082},{"x":0.01523,"y":2005},{"x":0.01508,"y":1847},{"x":0.0127,"y":2010},{"x":0.0133,"y":1970},{"x":0.014,"y":1990},{"x":0.01173,"y":1934},{"x":0.01617,"y":1944},{"x":0.0186,"y":1939},{"x":0.01889,"y":1959},{"x":0.01909,"y":1985},{"x":0.02017,"y":1959},{"x":0.02041,"y":1919},{"x":0.02113,"y":1939},{"x":0.02181,"y":1929},{"x":0.0219,"y":1878},{"x":0.02215,"y":1837},{"x":0.02058,"y":1847},{"x":0.02022,"y":1776},{"x":0.02142,"y":1725},{"x":0.02203,"y":1578},
{"x":0.02451,"y":1797},{"x":0.02439,"y":1547},{"x":0.02477,"y":1501},{"x":0.02311,"y":1476},{"x":0.02364,"y":1379},{"x":0.02675,"y":1272},{"x":0.0275,"y":1170},{"x":0.02914,"y":1338},{"x":0.03123,"y":1115},{"x":0.0319,"y":1176},{"x":0.03357,"y":1089},{"x":0.03415,"y":835},
{"x":0.02827,"y":936},{"x":0.02858,"y":717},{"x":0.02873,"y":494},{"x":0.02986,"y":168},{"x":0.02713,"y":763},{"x":0.02644,"y":997},{"x":0.02615,"y":926},{"x":0.02581,"y":850},{"x":0.02547,"y":763},{"x":0.02542,"y":641},{"x":0.02581,"y":544},{"x":0.02629,"y":504},{"x":0.02518,"y":504},{"x":0.02492,"y":483},{"x":0.02521,"y":290},{"x":0.02477,"y":275},{"x":0.02434,"y":188},{"x":0.02608,"y":265},{"x":0.02627,"y":178},{"x":0.02697,"y":-66},{"x":0.02525,"y":-92},
{"x":0.02448,"y":1231},{"x":0.0246,"y":1191},{"x":0.02473,"y":1216},{"x":0.02439,"y":1155},{"x":0.02448,"y":1104},{"x":0.02444,"y":1053},{"x":0.02378,"y":1079},{"x":0.02287,"y":1181},{"x":0.02448,"y":835},{"x":0.02391,"y":621},{"x":0.02395,"y":478},{"x":0.02323,"y":595},{"x":0.02342,"y":544},{"x":0.02287,"y":570},{"x":0.02263,"y":544},{"x":0.02287,"y":402},{"x":0.02282,"y":341},{"x":0.02292,"y":188},{"x":0.02258,"y":137},{"x":0.02335,"y":61},{"x":0.02359,"y":-41},
{"x":0.0113,"y":1486},{"x":0.01166,"y":1674},{"x":0.01239,"y":1654},{"x":0.01299,"y":1562},{"x":0.01366,"y":1791},{"x":0.01383,"y":1639},{"x":0.01455,"y":1654},{"x":0.01528,"y":1623},{"x":0.01588,"y":1613},{"x":0.01677,"y":1756},{"x":0.01684,"y":1562},{"x":0.01745,"y":1741},{"x":0.01757,"y":1664},{"x":0.01877,"y":1486},{"x":0.0195,"y":1705},{"x":0.01974,"y":1639},{"x":0.0201,"y":1410},
{"x":0.01154,"y":1410},{"x":0.01202,"y":1435},{"x":0.01275,"y":1359},{"x":0.01335,"y":1308},{"x":0.01371,"y":1333},{"x":0.01463,"y":1308},{"x":0.01535,"y":1349},{"x":0.016,"y":1471},{"x":0.0166,"y":1435},{"x":0.01672,"y":1333},{"x":0.01696,"y":1384},{"x":0.01769,"y":1272},{"x":0.01853,"y":1308},{"x":0.01925,"y":1369},{"x":0.02046,"y":1196},{"x":0.02082,"y":1094},{"x":0.02142,"y":1318},{"x":0.02178,"y":1206},{"x":0.02215,"y":977},{"x":0.01142,"y":1181},{"x":0.01178,"y":1196},{"x":0.01239,"y":1155},{"x":0.01347,"y":1206},{"x":0.01419,"y":1155},{"x":0.01492,"y":1130},{"x":0.01564,"y":1196},{"x":0.01624,"y":1089},{"x":0.01708,"y":1053},{"x":0.01781,"y":1155},{"x":0.01853,"y":1191},{"x":0.01901,"y":1155},{"x":0.01974,"y":1079},{"x":0.02099,"y":1104},{"x":0.02166,"y":1003},
{"x":0.0113,"y":825},{"x":0.01178,"y":952},{"x":0.01239,"y":758},{"x":0.01287,"y":977},{"x":0.01323,"y":850},{"x":0.01347,"y":748},{"x":0.01395,"y":977},{"x":0.01443,"y":850},{"x":0.01492,"y":748},{"x":0.01528,"y":952},{"x":0.01588,"y":799},{"x":0.01636,"y":926},{"x":0.0168,"y":723},{"x":0.01733,"y":901},{"x":0.01805,"y":748},{"x":0.01865,"y":850},{"x":0.01913,"y":748},{"x":0.01998,"y":977},{"x":0.02022,"y":748},{"x":0.0207,"y":850},{"x":0.02118,"y":748},{"x":0.02154,"y":672},{"x":0.02215,"y":799},{"x":0.01166,"y":646},{"x":0.01227,"y":544},{"x":0.01299,"y":595},{"x":0.01371,"y":672},{"x":0.01443,"y":621},{"x":0.01516,"y":544},{"x":0.01564,"y":646},{"x":0.01624,"y":570},{"x":0.01696,"y":646},{"x":0.01757,"y":595},{"x":0.01829,"y":544},{"x":0.01889,"y":697},{"x":0.0195,"y":595},{"x":0.02034,"y":646},{"x":0.02106,"y":570},{"x":0.0219,"y":595},{"x":0.01118,"y":544},
{"x":0.01142,"y":341},{"x":0.01202,"y":417},{"x":0.01251,"y":290},{"x":0.01311,"y":239},{"x":0.01359,"y":402},{"x":0.01419,"y":290},{"x":0.01468,"y":443},{"x":0.01528,"y":366},{"x":0.01576,"y":239},{"x":0.01624,"y":392},{"x":0.01684,"y":290},{"x":0.01745,"y":443},{"x":0.01805,"y":341},{"x":0.01853,"y":239},{"x":0.01925,"y":392},{"x":0.01974,"y":290},{"x":0.02046,"y":341},{"x":0.02094,"y":239},{"x":0.02154,"y":417},{"x":0.02215,"y":239},{"x":0.01154,"y":137},{"x":0.01227,"y":87},{"x":0.01287,"y":163},{"x":0.01347,"y":36},{"x":0.01407,"y":87},{"x":0.01468,"y":163},{"x":0.01528,"y":10},{"x":0.01588,"y":112},{"x":0.01648,"y":36},{"x":0.01708,"y":87},{"x":0.01757,"y":163},{"x":0.01817,"y":10},{"x":0.01877,"y":87},{"x":0.01937,"y":10},{"x":0.01998,"y":137},{"x":0.02058,"y":61},{"x":0.02118,"y":112},{"x":0.02178,"y":36},{"x":0.02239,"y":61},{"x":0.01178,"y":-41},{"x":0.01395,"y":-56},{"x":0.01588,"y":-66},{"x":0.01829,"y":-56},{"x":0.02118,"y":-51},
{"x":-0.00284,"y":-224},{"x":-0.00147,"y":-352},{"x":-0.00147,"y":-560},{"x":-0.00075,"y":-545},{"x":-0.00075,"y":-662},{"x":-0.00046,"y":-229},{"x":0.00012,"y":-423},{"x":0.00022,"y":-433},{"x":-0.00381,"y":-1024},{"x":-0.00258,"y":-1222},{"x":-0.00169,"y":-1512},{"x":-0.00198,"y":-1797},{"x":-0.00277,"y":-1889},{"x":-0.00072,"y":-2403},{"x":0.00034,"y":-876},{"x":0.00046,"y":-1446},{"x":0.00022,"y":-1553},{"x":0.00075,"y":-118},{"x":0.00089,"y":-179},{"x":0.0013,"y":-515},{"x":0.00154,"y":-871},{"x":0.00159,"y":-1385},{"x":0.00227,"y":-769},{"x":0.00244,"y":-1609},{"x":0.00222,"y":-1700},
{"x":0.00263,"y":-143},{"x":0.00275,"y":-301},{"x":0.00287,"y":-397},{"x":0.00311,"y":-179},{"x":0.00297,"y":-627},{"x":0.00342,"y":-1227},{"x":0.00325,"y":-1675},{"x":0.00347,"y":-1543},{"x":0.00388,"y":-932},{"x":0.00393,"y":-1400},{"x":0.0041,"y":-2184},{"x":0.00458,"y":-1527},{"x":0.00378,"y":-484},{"x":0.00388,"y":-433},{"x":0.00417,"y":-667},{"x":0.00434,"y":-789},{"x":0.00448,"y":-280},{"x":0.00463,"y":-906},{"x":0.00465,"y":-484},{"x":0.00504,"y":-372},{"x":0.00518,"y":-967},{"x":0.00516,"y":-1390},{"x":0.00525,"y":-1925},{"x":0.00566,"y":-1930},{"x":0.00528,"y":-856},{"x":0.00552,"y":-942},{"x":0.00576,"y":-1034},{"x":0.00583,"y":-1024},{"x":0.00545,"y":-1100},{"x":0.00552,"y":-1227},{"x":0.00564,"y":-1237},{"x":0.00588,"y":-1263},{"x":0.00607,"y":-1176},{"x":0.00636,"y":-1319},{"x":0.00588,"y":-1538},{"x":0.00624,"y":-1431},{"x":0.00685,"y":-1176},{"x":0.00697,"y":-1278},{"x":0.00723,"y":-1090},{"x":0.00699,"y":-2342},{"x":0.00769,"y":-2846},{"x":0.00829,"y":-1965},{"x":0.00861,"y":-2159},{"x":0.00853,"y":-1660},{"x":0.00841,"y":-1415},{"x":0.00861,"y":-1441},{"x":0.00928,"y":-1242},{"x":0.01005,"y":-2011},{"x":0.01034,"y":-2245},{"x":0.01145,"y":-2530},{"x":0.01116,"y":-1690},{"x":0.01082,"y":-1380},{"x":0.01111,"y":-1324},{"x":0.0113,"y":-1130},{"x":0.01142,"y":-1095},{"x":0.01186,"y":-957},{"x":0.01215,"y":-1212},
{"x":0.00359,"y":-107},{"x":0.00407,"y":-128},{"x":0.00455,"y":-168},{"x":0.00528,"y":-67},{"x":0.00564,"y":-107},{"x":0.006,"y":-168},{"x":0.00648,"y":-92},{"x":0.00697,"y":-67},{"x":0.00745,"y":-41},{"x":0.00793,"y":-107},{"x":0.00865,"y":-56},{"x":0.00914,"y":-92},{"x":0.00974,"y":-67},{"x":0.01022,"y":-128},{"x":0.0107,"y":-41},{"x":0.0113,"y":-179},{"x":0.01179,"y":-219},{"x":0.01227,"y":-118},{"x":0.00576,"y":-219},{"x":0.00612,"y":-499},{"x":0.006,"y":-627},{"x":0.0066,"y":-245},{"x":0.00709,"y":-229},{"x":0.00721,"y":-423},{"x":0.00769,"y":-321},{"x":0.00793,"y":-499},{"x":0.00817,"y":-382},{"x":0.00841,"y":-270},{"x":0.00885,"y":-179},{"x":0.00938,"y":-347},{"x":0.00986,"y":-423},{"x":0.01046,"y":-372},{"x":0.01082,"y":-270},{"x":0.01142,"y":-423},{"x":0.01167,"y":-525},{"x":0.01215,"y":-372},{"x":0.01251,"y":-260},{"x":0.00793,"y":-601},{"x":0.00817,"y":-703},{"x":0.00877,"y":-830},{"x":0.00901,"y":-525},{"x":0.00938,"y":-922},{"x":0.00986,"y":-830},{"x":0.01034,"y":-1085},{"x":0.0107,"y":-932},{"x":0.01118,"y":-805},{"x":0.01167,"y":-754},{"x":0.01203,"y":-627},{"x":0.01239,"y":-830},{"x":0.00865,"y":-983},{"x":0.00889,"y":-1059},{"x":0.00974,"y":-1110},{"x":0.0101,"y":-1085},{"x":0.00841,"y":-1085},{"x":0.00697,"y":-576},{"x":0.00733,"y":-586},{"x":0.00407,"y":-41},{"x":0.00443,"y":45},{"x":0.00528,"y":86},{"x":0.00588,"y":35},{"x":0.0066,"y":-56},{"x":0.00877,"y":35},{"x":0.0101,"y":86},{"x":0.01082,"y":76},{"x":0.01155,"y":61},{"x":0.01203,"y":10},
{"x":0.03186,"y":-1772},{"x":0.0241,"y":-2143},{"x":0.02222,"y":-2311},{"x":0.0228,"y":-1751},{"x":0.02217,"y":-1548},{"x":0.01925,"y":-1497},{"x":0.01851,"y":-2154},{"x":0.01774,"y":-2220},{"x":0.01721,"y":-2006},{"x":0.01636,"y":-2357},{"x":0.01499,"y":-2123},{"x":0.01284,"y":-1965},{"x":0.01142,"y":-2535},{"x":0.01118,"y":-1695},{"x":0.01258,"y":-1670},{"x":0.01414,"y":-1660},{"x":0.01521,"y":-1726},{"x":0.01781,"y":-1655},{"x":0.02793,"y":-1008},{"x":0.02764,"y":-896},{"x":0.02586,"y":-856},{"x":0.02588,"y":-738},{"x":0.02576,"y":-626},{"x":0.02509,"y":-509},{"x":0.02371,"y":-458},{"x":0.02328,"y":-988},{"x":0.02294,"y":-805},{"x":0.02311,"y":-728},{"x":0.02294,"y":-575},{"x":0.02263,"y":-352},{"x":0.02215,"y":-881},{"x":0.02203,"y":-601},{"x":0.02075,"y":-830},{"x":0.01993,"y":-1069},{"x":0.02043,"y":-601},{"x":0.01988,"y":-626},{"x":0.01957,"y":-565},{"x":0.02017,"y":-438},{"x":0.01889,"y":-433},{"x":0.01945,"y":-820},{"x":0.01913,"y":-744},
{"x":0.02494,"y":-209},{"x":0.02552,"y":-229},{"x":0.02545,"y":-311},{"x":0.0266,"y":-209},{"x":0.02697,"y":-245},{"x":0.02721,"y":-280},{"x":0.02699,"y":-67},{"x":0.02523,"y":-87},{"x":0.02323,"y":-5},{"x":0.02287,"y":-16},{"x":0.02251,"y":61},
{"x":0.02077,"y":-280},{"x":0.0213,"y":-296},{"x":0.02147,"y":-107},{"x":0.0207,"y":-67},{"x":0.02022,"y":-296},{"x":0.01961,"y":-280},{"x":0.01969,"y":-107},{"x":0.01901,"y":-41},{"x":0.01872,"y":-245},{"x":0.01829,"y":-179},{"x":0.01817,"y":-372},{"x":0.01841,"y":-525},{"x":0.01824,"y":-642},{"x":0.0186,"y":-947},{"x":0.01812,"y":-1024},{"x":0.01829,"y":-1095},{"x":0.01769,"y":-1095},{"x":0.01733,"y":-779},{"x":0.01745,"y":-754},{"x":0.01696,"y":-957},{"x":0.01708,"y":-474},{"x":0.01672,"y":-728},{"x":0.01684,"y":-576},{"x":0.01636,"y":-372},{"x":0.01624,"y":-296},{"x":0.016,"y":-856},{"x":0.01588,"y":-906},{"x":0.01564,"y":-973},{"x":0.0154,"y":-932},{"x":0.01612,"y":-1034},{"x":0.01624,"y":-1339},{"x":0.01648,"y":-1263},{"x":0.01672,"y":-1390},{"x":0.01708,"y":-1365},{"x":0.01745,"y":-1390},{"x":0.01781,"y":-1365},{"x":0.0181,"y":-1415},{"x":0.01684,"y":-1899},{"x":0.0166,"y":-1543},{"x":0.01624,"y":-1517},{"x":0.01605,"y":-1492},{"x":0.01571,"y":-1573},{"x":0.01511,"y":-1390},{"x":0.0148,"y":-1533},{"x":0.01443,"y":-1390},{"x":0.01431,"y":-1339},{"x":0.01419,"y":-1482},{"x":0.01383,"y":-1212},{"x":0.01347,"y":-1365},{"x":0.01287,"y":-1339},{"x":0.01246,"y":-1390},{"x":0.01154,"y":-1095},{"x":0.01198,"y":-1212},{"x":0.01227,"y":-1186},{"x":0.01246,"y":-1110},{"x":0.01299,"y":-1085},{"x":0.01335,"y":-1186},{"x":0.01383,"y":-1110},{"x":0.01414,"y":-1110},{"x":0.01463,"y":-1212},{"x":0.01511,"y":-1237},{"x":0.01545,"y":-1298},{"x":0.01552,"y":-1110},
{"x":0.0113,"y":-92},{"x":0.01178,"y":-219},{"x":0.01214,"y":-168},{"x":0.01251,"y":-270},{"x":0.01287,"y":-372},{"x":0.01335,"y":-245},{"x":0.01371,"y":-118},{"x":0.01407,"y":-219},{"x":0.01443,"y":-92},{"x":0.0148,"y":-168},{"x":0.01516,"y":-67},{"x":0.01552,"y":-245},{"x":0.01588,"y":-143},{"x":0.01624,"y":-16},{"x":0.0166,"y":-118},{"x":0.01708,"y":-92},{"x":0.01757,"y":-168},{"x":0.01793,"y":-16},{"x":0.01118,"y":-372},{"x":0.01166,"y":-474},{"x":0.01214,"y":-525},{"x":0.01251,"y":-448},{"x":0.01299,"y":-576},{"x":0.01347,"y":-474},{"x":0.01395,"y":-550},{"x":0.01455,"y":-423},{"x":0.01504,"y":-525},{"x":0.01552,"y":-474},{"x":0.01588,"y":-576},{"x":0.01648,"y":-474},{"x":0.01708,"y":-321},{"x":0.01757,"y":-372},{"x":0.0113,"y":-728},{"x":0.01178,"y":-805},{"x":0.01227,"y":-677},{"x":0.01263,"y":-754},{"x":0.01311,"y":-881},{"x":0.01347,"y":-703},{"x":0.01395,"y":-805},{"x":0.01443,"y":-779},{"x":0.0148,"y":-881},{"x":0.01528,"y":-703},{"x":0.01564,"y":-627},{"x":0.0113,"y":-932},{"x":0.01202,"y":-957},{"x":0.01251,"y":-906},{"x":0.01407,"y":-957},{"x":0.01468,"y":-1008},{"x":0.01335,"y":-1034},{"x":0.01757,"y":-601},{"x":0.01769,"y":-270},{"x":0.01347,"y":-16},{"x":0.01251,"y":35},{"x":0.0154,"y":61},{"x":0.01684,"y":86},{"x":0.01419,"y":86},{"x":0.0119,"y":35},{"x":0.01118,"y":61},{"x":0.01492,"y":-347},{"x":0.01395,"y":-347},{"x":0.0119,"y":-321}
],
"one":[{"v":0}]},
"vconcat":[
{"title":{"text":"A)","anchor":"start","frame":"group","dx":-164,"offset":7,"baseline":"alphabetic","fontSize":18,"font":"Open Sans","fontWeight":"bold","color":"black"},
"width":791,"height":555,
"layer":[
{"data":{"name":"one"},"mark":{"type":"rule","color":"#ff4040","strokeWidth":2,"strokeDash":[6,3.5,2,3.5]},"encoding":{"x":{"datum":0,"type":"quantitative"}}},
{"data":{"name":"one"},"mark":{"type":"rule","color":"#ff4040","strokeWidth":2,"strokeDash":[6,3.5,2,3.5]},"encoding":{"y":{"datum":0,"type":"quantitative"}}},
{"data":{"name":"a"},"mark":{"type":"circle","size":30,"color":"#1a476f","opacity":1},
"encoding":{
"x":{"field":"x","type":"quantitative","scale":{"domain":[-0.01243,0.04101],"nice":false,"zero":false},"axis":{"title":"Primary adverse clinical outcome: Right means 0/1-hour protocol worse","values":[-0.01,0,0.01,0.02,0.03,0.04],"labelExpr":"replace('' + datum.value, '0.', '.')","grid":false,"labelPadding":4,"labelBaseline":"top","titleY":85,"titleBaseline":"alphabetic"}},
"y":{"field":"y","type":"quantitative","scale":{"domain":[-4229,4229],"nice":false,"zero":false},"axis":{"title":["Total cost:","Higher means 0/1-hour hs-cTnT protocol more expensive"],"values":[-4000,-2000,0,2000,4000],"labelExpr":"'' + datum.value","grid":true,"labelAngle":270,"labelAlign":"center","labelBaseline":"bottom","labelPadding":4,"titleX":-95,"titleY":295,"titleBaseline":"bottom","titleLineHeight":25}}}}
]},
{"title":{"text":"B)","anchor":"start","frame":"group","dx":-164,"offset":7,"baseline":"alphabetic","fontSize":18,"font":"Open Sans","fontWeight":"bold","color":"black"},
"width":791,"height":555,
"layer":[
{"data":{"name":"one"},"mark":{"type":"rule","color":"#ff4040","strokeWidth":2,"strokeDash":[6,3.5,2,3.5]},"encoding":{"x":{"datum":0,"type":"quantitative"}}},
{"data":{"name":"one"},"mark":{"type":"rule","color":"#ff4040","strokeWidth":2,"strokeDash":[6,3.5,2,3.5]},"encoding":{"y":{"datum":0,"type":"quantitative"}}},
{"data":{"name":"b"},"mark":{"type":"circle","size":30,"color":"#1a476f","opacity":1},
"encoding":{
"x":{"field":"x","type":"quantitative","scale":{"domain":[-0.011,0.04613],"nice":false,"zero":false},"axis":{"title":"Primary adverse clinical outcome: Right means 0/1-hour protocol worse","values":[-0.01,0,0.01,0.02,0.03,0.04],"labelExpr":"replace('' + datum.value, '0.', '.')","grid":false,"labelPadding":4,"labelBaseline":"top","titleY":85,"titleBaseline":"alphabetic"}},
"y":{"field":"y","type":"quantitative","scale":{"domain":[-4229,4229],"nice":false,"zero":false},"axis":{"title":["Total cost:","Higher means 0/1-hour hs-cTnT protocol more expensive"],"values":[-4000,-2000,0,2000,4000],"labelExpr":"'' + datum.value","grid":true,"labelAngle":270,"labelAlign":"center","labelBaseline":"bottom","labelPadding":4,"titleX":-95,"titleY":295,"titleBaseline":"bottom","titleLineHeight":25}}}}
]}
]}
